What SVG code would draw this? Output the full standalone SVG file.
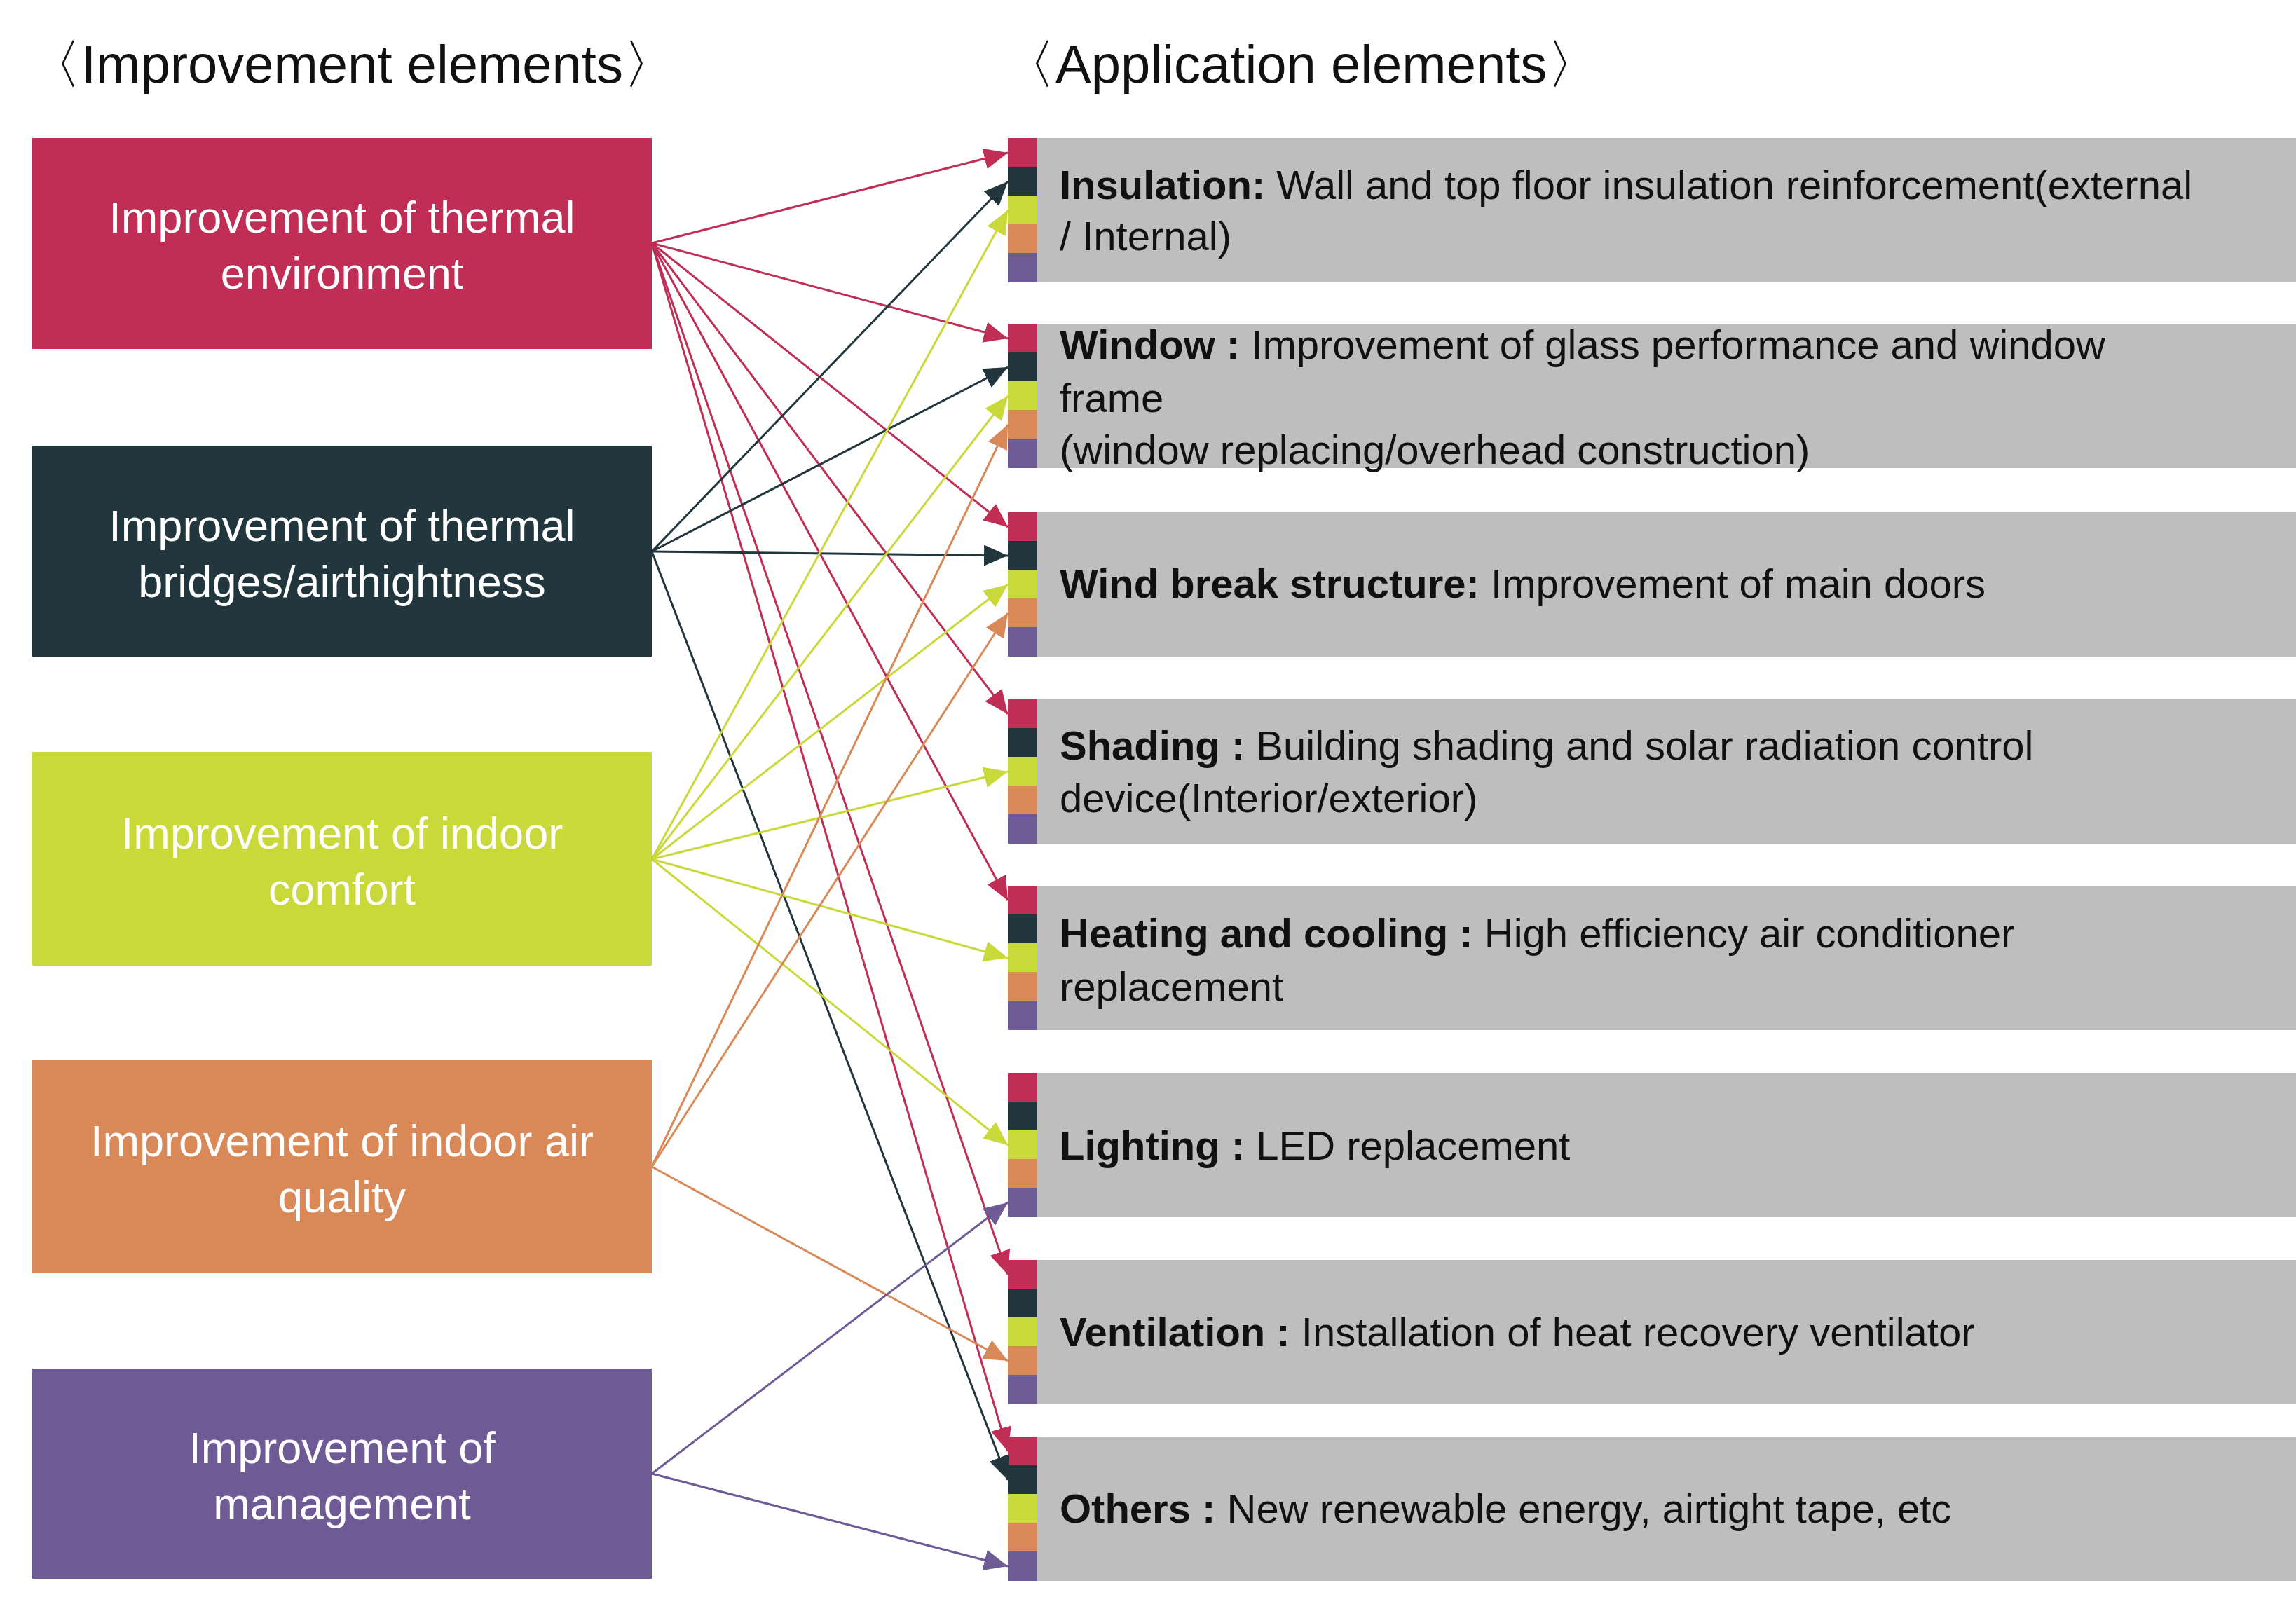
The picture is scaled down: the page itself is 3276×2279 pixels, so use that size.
<svg xmlns="http://www.w3.org/2000/svg" width="3276" height="2279" viewBox="0 0 3276 2279">
<style>
.t{font-family:"Liberation Sans",Arial,sans-serif}
.title{font-size:76px;fill:#111}
.lb{font-size:63px;fill:#fff;text-anchor:middle}
.rt{font-size:58px;fill:#111}
.b{font-weight:bold}
.c{fill:none;stroke-width:3}
</style>
<defs>
<marker id="mr" markerUnits="userSpaceOnUse" markerWidth="36" markerHeight="30" refX="34" refY="15" orient="auto"><path d="M0,0L34,15L0,30z" fill="#C02D55"/></marker>
<marker id="md" markerUnits="userSpaceOnUse" markerWidth="36" markerHeight="30" refX="34" refY="15" orient="auto"><path d="M0,0L34,15L0,30z" fill="#21373D"/></marker>
<marker id="my" markerUnits="userSpaceOnUse" markerWidth="36" markerHeight="30" refX="34" refY="15" orient="auto"><path d="M0,0L34,15L0,30z" fill="#C9D93A"/></marker>
<marker id="mo" markerUnits="userSpaceOnUse" markerWidth="36" markerHeight="30" refX="34" refY="15" orient="auto"><path d="M0,0L34,15L0,30z" fill="#D98857"/></marker>
<marker id="mp" markerUnits="userSpaceOnUse" markerWidth="36" markerHeight="30" refX="34" refY="15" orient="auto"><path d="M0,0L34,15L0,30z" fill="#6E5B96"/></marker>
<g id="strip">
<rect x="0" y="0" width="42" height="42" fill="#C02D55"/>
<rect x="0" y="41" width="42" height="42" fill="#21373D"/>
<rect x="0" y="82" width="42" height="42" fill="#C9D93A"/>
<rect x="0" y="123" width="42" height="42" fill="#D98857"/>
<rect x="0" y="164" width="42" height="42" fill="#6E5B96"/>
</g>
</defs>
<rect width="3276" height="2279" fill="#fff"/>
<text class="t title" x="40" y="118">〈Improvement elements〉</text>
<text class="t title" x="1430" y="118">〈Application elements〉</text>

<g id="left1"><rect x="46" y="197" width="884" height="301" fill="#C02D55"/><text class="t lb" x="488" y="332">Improvement of thermal</text><text class="t lb" x="488" y="412">environment</text></g>
<g id="left2"><rect x="46" y="636" width="884" height="301" fill="#21373D"/><text class="t lb" x="488" y="772">Improvement of thermal</text><text class="t lb" x="488" y="852">bridges/airthightness</text></g>
<g id="left3"><rect x="46" y="1073" width="884" height="305" fill="#C9D93A"/><text class="t lb" x="488" y="1211">Improvement of indoor</text><text class="t lb" x="488" y="1291">comfort</text></g>
<g id="left4"><rect x="46" y="1512" width="884" height="305" fill="#D98857"/><text class="t lb" x="488" y="1650">Improvement of indoor air</text><text class="t lb" x="488" y="1730">quality</text></g>
<g id="left5"><rect x="46" y="1953" width="884" height="300" fill="#6E5B96"/><text class="t lb" x="488" y="2088">Improvement of</text><text class="t lb" x="488" y="2168">management</text></g>

<g id="r1"><rect x="1480" y="197" width="1796" height="206" fill="#BEBEBE"/><use href="#strip" x="1438" y="197"/><text class="t rt" x="1512" y="284"><tspan class="b">Insulation:</tspan> Wall and top floor insulation reinforcement(external</text><text class="t rt" x="1512" y="357">/ Internal)</text></g>
<g id="r2"><rect x="1480" y="462" width="1796" height="206" fill="#BEBEBE"/><use href="#strip" x="1438" y="462"/><text class="t rt" x="1512" y="512"><tspan class="b">Window :</tspan> Improvement of glass performance and window</text><text class="t rt" x="1512" y="588">frame</text><text class="t rt" x="1512" y="662">(window replacing/overhead construction)</text></g>
<g id="r3"><rect x="1480" y="731" width="1796" height="206" fill="#BEBEBE"/><use href="#strip" x="1438" y="731"/><text class="t rt" x="1512" y="853"><tspan class="b">Wind break structure:</tspan> Improvement of main doors</text></g>
<g id="r4"><rect x="1480" y="998" width="1796" height="206" fill="#BEBEBE"/><use href="#strip" x="1438" y="998"/><text class="t rt" x="1512" y="1084"><tspan class="b">Shading :</tspan> Building shading and solar radiation control</text><text class="t rt" x="1512" y="1159">device(Interior/exterior)</text></g>
<g id="r5"><rect x="1480" y="1264" width="1796" height="206" fill="#BEBEBE"/><use href="#strip" x="1438" y="1264"/><text class="t rt" x="1512" y="1352"><tspan class="b">Heating and cooling :</tspan> High efficiency air conditioner</text><text class="t rt" x="1512" y="1428">replacement</text></g>
<g id="r6"><rect x="1480" y="1531" width="1796" height="206" fill="#BEBEBE"/><use href="#strip" x="1438" y="1531"/><text class="t rt" x="1512" y="1655"><tspan class="b">Lighting :</tspan> LED replacement</text></g>
<g id="r7"><rect x="1480" y="1798" width="1796" height="206" fill="#BEBEBE"/><use href="#strip" x="1438" y="1798"/><text class="t rt" x="1512" y="1921"><tspan class="b">Ventilation :</tspan> Installation of heat recovery ventilator</text></g>
<g id="r8"><rect x="1480" y="2050" width="1796" height="206" fill="#BEBEBE"/><use href="#strip" x="1438" y="2050"/><text class="t rt" x="1512" y="2173"><tspan class="b">Others :</tspan> New renewable energy, airtight tape, etc</text></g>

<g id="connectors">
<g stroke="#C02D55" class="c" marker-end="url(#mr)">
<line class="c" x1="930" y1="347" x2="1438" y2="218"/>
<line class="c" x1="930" y1="347" x2="1438" y2="483"/>
<line class="c" x1="930" y1="347" x2="1438" y2="752"/>
<line class="c" x1="930" y1="347" x2="1438" y2="1019"/>
<line class="c" x1="930" y1="347" x2="1438" y2="1285"/>
<line class="c" x1="930" y1="347" x2="1438" y2="1819"/>
<line class="c" x1="930" y1="347" x2="1438" y2="2071"/>
</g>
<g stroke="#21373D" class="c" marker-end="url(#md)">
<line class="c" x1="930" y1="787" x2="1438" y2="259"/>
<line class="c" x1="930" y1="787" x2="1438" y2="524"/>
<line class="c" x1="930" y1="787" x2="1438" y2="793"/>
<line class="c" x1="930" y1="787" x2="1438" y2="2112"/>
</g>
<g stroke="#C9D93A" class="c" marker-end="url(#my)">
<line class="c" x1="930" y1="1226" x2="1438" y2="300"/>
<line class="c" x1="930" y1="1226" x2="1438" y2="565"/>
<line class="c" x1="930" y1="1226" x2="1438" y2="834"/>
<line class="c" x1="930" y1="1226" x2="1438" y2="1101"/>
<line class="c" x1="930" y1="1226" x2="1438" y2="1367"/>
<line class="c" x1="930" y1="1226" x2="1438" y2="1634"/>
</g>
<g stroke="#D98857" class="c" marker-end="url(#mo)">
<line class="c" x1="930" y1="1665" x2="1438" y2="606"/>
<line class="c" x1="930" y1="1665" x2="1438" y2="875"/>
<line class="c" x1="930" y1="1665" x2="1438" y2="1942"/>
</g>
<g stroke="#6E5B96" class="c" marker-end="url(#mp)">
<line class="c" x1="930" y1="2103" x2="1438" y2="1716"/>
<line class="c" x1="930" y1="2103" x2="1438" y2="2235"/>
</g>
</g>
</svg>
